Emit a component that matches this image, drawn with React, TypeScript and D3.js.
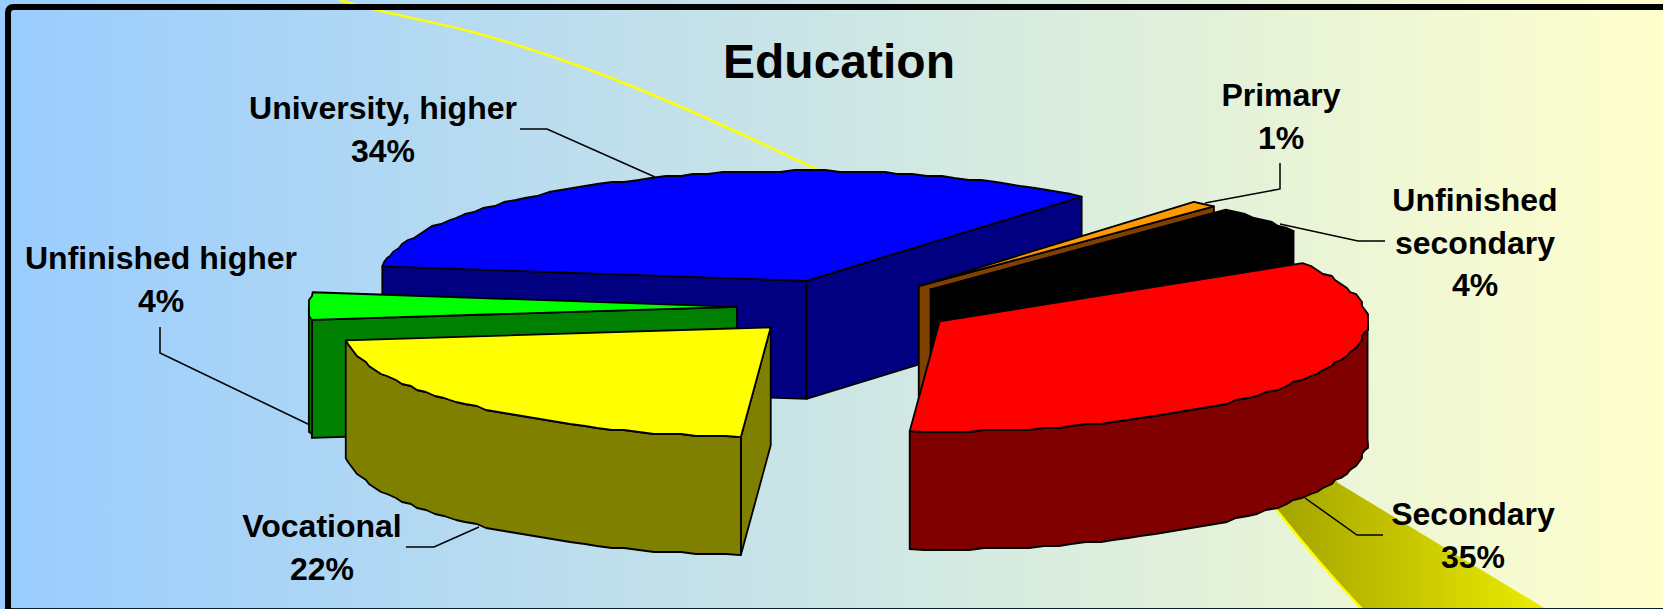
import React from "react";
import * as d3 from "d3";

const categories = ["Secondary", "Vocational", "Unfinished higher", "University, higher", "Primary", "Unfinished secondary"];
const shares = [35, 22, 4, 34, 1, 4];
const topColors = ["#ff0000", "#ffff00", "#00ff00", "#0000ff", "#ff9900", "#000000"];
const sideColors = ["#800000", "#808000", "#008000", "#000080", "#804000", "#000000"];
// back to front, as the slices overlap
const paintOrder = [3, 4, 5, 0, 2, 1];

const width = 1663;
const height = 609;
const cx = 846;
const cy = 307;
const rx = 428;
const ry = 110;
const depth = 118;
const explode = 0.255;

// label lines, anchor of the text block, leader polyline
const labels = [
  { lines: ["Secondary", "35%"], x: 1473, y: 525, leader: [[1383, 535], [1357, 535], [1305, 498]] },
  { lines: ["Vocational", "22%"], x: 322, y: 537, leader: [[406, 547], [434, 547], [479, 527]] },
  { lines: ["Unfinished higher", "4%"], x: 161, y: 269, leader: [[160, 327], [160, 353], [310, 425]] },
  { lines: ["University, higher", "34%"], x: 383, y: 119, leader: [[520, 129], [547, 129], [655, 177]] },
  { lines: ["Primary", "1%"], x: 1281, y: 106, leader: [[1280, 163], [1280, 189], [1205, 203]] },
  { lines: ["Unfinished", "secondary", "4%"], x: 1475, y: 211, leader: [[1385, 241], [1358, 241], [1280, 224]] },
];

const font = "'Liberation Sans', Arial, sans-serif";
const line = d3.line();

// d3.pie measures from 12 o'clock; shift to screen angle
const slices = d3
  .pie<number>()
  .sort(null)
  .startAngle((58 * Math.PI) / 180)
  .endAngle((418 * Math.PI) / 180)(shares)
  .map((d, i) => {
    const a0 = d.startAngle - Math.PI / 2;
    const a1 = d.endAngle - Math.PI / 2;
    const mid = (a0 + a1) / 2;
    return {
      i,
      a0,
      a1,
      x: cx + explode * rx * Math.cos(mid),
      y: cy + explode * ry * Math.sin(mid),
    };
  });

type Slice = (typeof slices)[number];

const rim = (s: Slice, a: number, z = 0): [number, number] => [
  s.x + rx * Math.cos(a),
  s.y + ry * Math.sin(a) + z,
];

// the source picture has a slightly stepped rim, so snap the arc points a little
const arcPoints = (s: Slice, a0: number, a1: number, z = 0) => {
  const n = Math.max(2, Math.ceil(((a1 - a0) * 180) / Math.PI / 2));
  return d3.range(n + 1).map((k): [number, number] => {
    const p = rim(s, a0 + ((a1 - a0) * k) / n, z);
    if (k === 0 || k === n) return p;
    return [Math.round(p[0] / 3) * 3, Math.round((p[1] - z) / 2) * 2 + z];
  });
};

const cutFace = (s: Slice, a: number) =>
  line([[s.x, s.y], rim(s, a), rim(s, a, depth), [s.x, s.y + depth]])! + "Z";

const App = () => (
  <svg width={width} height={height} style={{ position: "absolute", left: 0, top: 0, display: "block" }}>
    <defs>
      <linearGradient id="bg" x1="0" x2="1" y1="0" y2="0">
        <stop offset="0" stopColor="#99ccff" />
        <stop offset="1" stopColor="#ffffcc" />
      </linearGradient>
      <linearGradient id="beam" gradientUnits="userSpaceOnUse" x1="1275" x2="1545" y1="0" y2="0">
        <stop offset="0" stopColor="#a3a300" />
        <stop offset="1" stopColor="#ecec00" />
      </linearGradient>
    </defs>
    <rect width={width} height={height} fill="url(#bg)" />

    {/* stray light beam behind the pie */}
    <path
      d={d3.line().curve(d3.curveCatmullRom)([[339, 0], [381, 11], [476, 33], [582, 67], [688, 110], [818, 170]])!}
      fill="none"
      stroke="#ffff00"
      strokeWidth={2.5}
    />
    <path d="M1240 450L1275 508Q1320 565 1362 609L1546 609L1338 483L1300 440Z" fill="url(#beam)" />
    <path d="M1275 508Q1320 565 1362 609" fill="none" stroke="#ffff00" strokeWidth={2.5} />

    <path d={`M${width} 7H14Q8 7 8 13V${height}`} fill="none" stroke="#000" strokeWidth={6} />
    <rect x={11} y={height - 1} width={width - 11} height={1} fill="#0a2030" />

    {paintOrder.map((i) => {
      const s = slices[i];
      const faces: number[] = [];
      if (Math.cos(s.a0) < 0) faces.push(s.a0);
      if (Math.cos(s.a1) > 0) faces.push(s.a1);
      // the part of the outer wall that faces the viewer
      const w0 = Math.max(s.a0, 0);
      const w1 = Math.min(s.a1, Math.PI);
      const front = s.a0 < Math.PI && w1 > w0;
      const top = arcPoints(s, s.a0, s.a1);
      return (
        <g key={categories[i]} stroke="#000" strokeWidth={1.8} strokeLinejoin="round">
          {faces.map((a) => (
            <path key={a} d={cutFace(s, a)} fill={sideColors[i]} />
          ))}
          {front && (
            <path
              d={line([...arcPoints(s, w0, w1), ...arcPoints(s, w0, w1, depth).reverse()])! + "Z"}
              fill={sideColors[i]}
            />
          )}
          <path d={line([[s.x, s.y], ...top])! + "Z"} fill={topColors[i]} />
        </g>
      );
    })}

    <text x={839} y={78} textAnchor="middle" fontFamily={font} fontWeight="bold" fontSize={48} fill="#000">
      Education
    </text>

    {labels.map((l) => (
      <g key={l.lines[0]}>
        <path d={line(l.leader as [number, number][])!} fill="none" stroke="#000" strokeWidth={1.5} />
        {l.lines.map((t, k) => (
          <text key={t} x={l.x} y={l.y + k * 42.5} textAnchor="middle" fontFamily={font} fontWeight="bold" fontSize={32} fill="#000">
            {t}
          </text>
        ))}
      </g>
    ))}
  </svg>
);

export default App;
